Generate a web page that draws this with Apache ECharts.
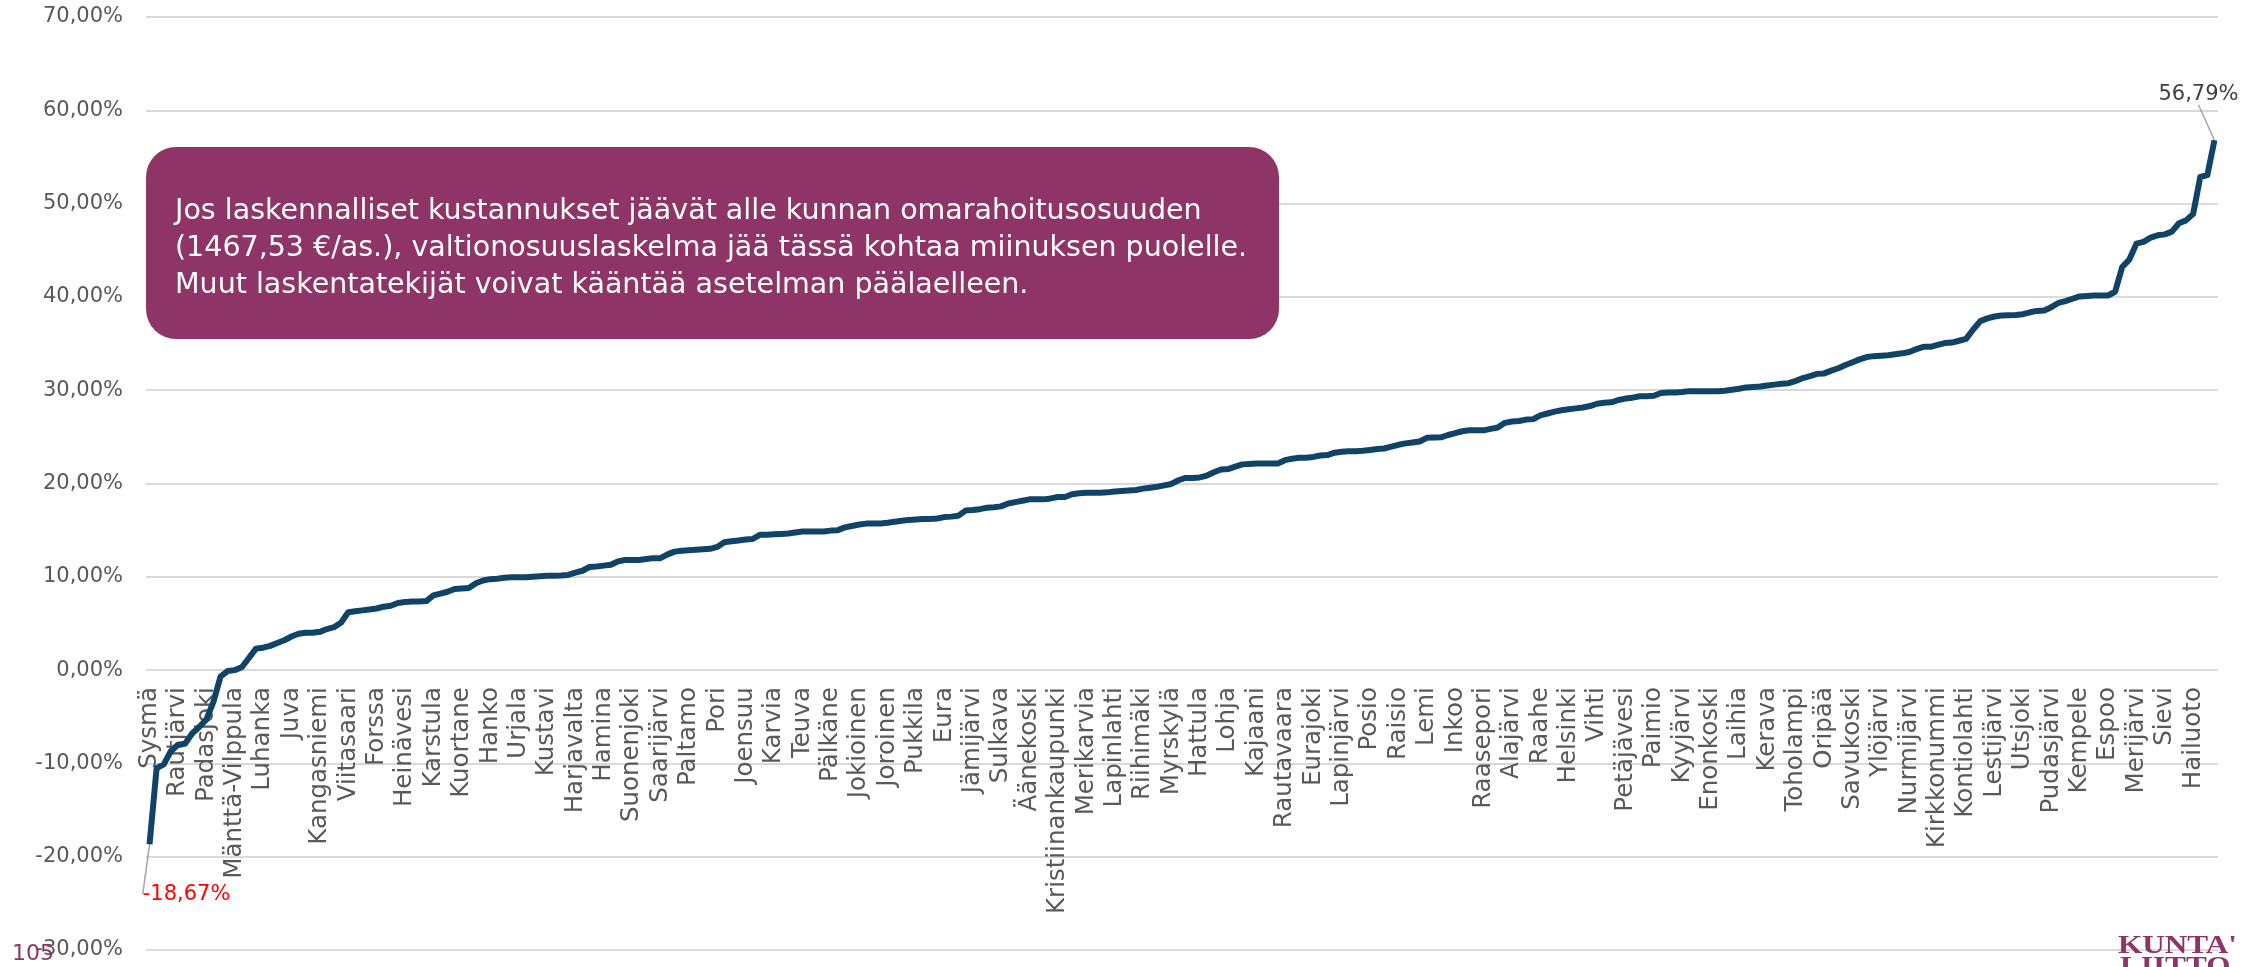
<!DOCTYPE html>
<html>
<head>
<meta charset="utf-8">
<script src="https://cdn.jsdelivr.net/npm/echarts@6/dist/echarts.min.js"></script>
<style>
html,body{margin:0;padding:0;background:#fff;}
#chart{width:2262px;height:967px;}
</style>
</head>
<body>
<div id="chart"></div>
<script>
// Labelled municipalities (every 4th category is labelled on the axis)
const labelNames = ["Sysmä","Rautjärvi","Padasjoki","Mänttä-Vilppula","Luhanka","Juva","Kangasniemi","Viitasaari","Forssa","Heinävesi","Karstula","Kuortane","Hanko","Urjala","Kustavi","Harjavalta","Hamina","Suonenjoki","Saarijärvi","Paltamo","Pori","Joensuu","Karvia","Teuva","Pälkäne","Jokioinen","Joroinen","Pukkila","Eura","Jämijärvi","Sulkava","Äänekoski","Kristiinankaupunki","Merikarvia","Lapinlahti","Riihimäki","Myrskylä","Hattula","Lohja","Kajaani","Rautavaara","Eurajoki","Lapinjärvi","Posio","Raisio","Lemi","Inkoo","Raasepori","Alajärvi","Raahe","Helsinki","Vihti","Petäjävesi","Paimio","Kyyjärvi","Enonkoski","Laihia","Kerava","Toholampi","Oripää","Savukoski","Ylöjärvi","Nurmijärvi","Kirkkonummi","Kontiolahti","Lestijärvi","Utsjoki","Pudasjärvi","Kempele","Espoo","Merijärvi","Sievi","Hailuoto"];
const labelStep = 4;

// Series values (%), in category order
const values1 = [-18.67,-10.5,-10.1,-8.7,-8.0,-7.9,-6.8,-6.1,-5.3,-3.4,-0.7,-0.1,0.0,0.3,1.3,2.3,2.4,2.6,2.9,3.2,3.6,3.9,4.0,4.0,4.1,4.4,4.6,5.1,6.2,6.3,6.4,6.5,6.6,6.8,6.9,7.2,7.3,7.35,7.35,7.4,8.0,8.2,8.4,8.7,8.75,8.8,9.3,9.6,9.75,9.8];
const values2 = [9.9,9.95,9.95,9.95,10.0,10.05,10.1,10.12,10.15,10.2,10.45,10.65,11.05,11.1,11.2,11.3,11.65,11.8,11.8,11.8,11.9,12.0,12.0,12.4,12.7,12.8,12.85,12.9,12.95,13.0,13.2,13.7,13.8,13.9,14.0,14.05,14.5,14.5,14.55,14.6,14.65,14.75,14.85,14.85,14.85,14.85,14.95,15.0,15.3,15.45];
const values3 = [15.6,15.7,15.7,15.72,15.8,15.9,16.0,16.1,16.15,16.2,16.2,16.25,16.4,16.45,16.55,17.1,17.15,17.25,17.4,17.45,17.55,17.85,18.0,18.15,18.3,18.3,18.3,18.4,18.55,18.55,18.85,18.95,19.0,19.0,19.0,19.05,19.15,19.2,19.25,19.3,19.45,19.55,19.65,19.8,19.95,20.35,20.6,20.6,20.65,20.85];
const values4 = [21.2,21.5,21.55,21.8,22.05,22.1,22.15,22.15,22.15,22.15,22.5,22.65,22.75,22.75,22.85,23.0,23.05,23.3,23.4,23.45,23.45,23.5,23.6,23.7,23.75,23.95,24.15,24.3,24.4,24.5,24.9,24.93,24.95,25.2,25.4,25.6,25.7,25.7,25.7,25.85,26.0,26.5,26.65,26.7,26.85,26.9,27.3,27.5,27.7,27.85];
const values5 = [27.95,28.05,28.15,28.3,28.55,28.65,28.7,28.95,29.1,29.2,29.35,29.35,29.4,29.7,29.75,29.75,29.8,29.9,29.9,29.9,29.9,29.9,29.95,30.05,30.15,30.3,30.35,30.4,30.5,30.6,30.7,30.75,31.0,31.3,31.5,31.75,31.8,32.1,32.35,32.7,33.0,33.3,33.55,33.65,33.7,33.75,33.85,33.95,34.1,34.4];
const values6 = [34.65,34.65,34.85,35.05,35.1,35.3,35.5,36.5,37.4,37.7,37.9,38.0,38.04,38.05,38.15,38.35,38.5,38.55,38.9,39.35,39.55,39.8,40.05,40.1,40.14,40.14,40.15,40.55,43.2,44.0,45.7,45.9,46.35,46.6,46.7,47.0,47.9,48.2,48.9,52.85,53.05,56.79];

const yTicks = {min: -30, max: 70, interval: 10};
const noteLines = [
  "Jos laskennalliset kustannukset jäävät alle kunnan omarahoitusosuuden",
  "(1467,53 €/as.), valtionosuuslaskelma jää tässä kohtaa miinuksen puolelle.",
  "Muut laskentatekijät voivat kääntää asetelman päälaelleen."
];
const pageNumber = "105";
const logoLines = ["KUNTA'", "LIITTO"];

const values = [].concat(values1, values2, values3, values4, values5, values6);
const categories = values.map((v, i) => (i % labelStep === 0 ? (labelNames[i / labelStep] || '') : ''));

const fmtPct = v => v.toFixed(2).replace('.', ',') + '%';
const lastIdx = values.length - 1;
const purple = '#8F3467';

// Grid geometry; the category axis sits on the zero line of the value axis
const CH = 967;
const gridTop = 17, gridBottom = 17;
const gridHeight = CH - gridTop - gridBottom;
const zeroOffset = -gridHeight * (0 - yTicks.min) / (yTicks.max - yTicks.min);

const seriesData = values.map((v, i) => {
  if (i === 0) {
    return {value: v, symbol: 'circle', symbolSize: 1,
      label: {show: true, position: 'bottom', color: '#FF0000', formatter: p => fmtPct(p.value)},
      labelLine: {show: true}};
  }
  if (i === lastIdx) {
    return {value: v, symbol: 'circle', symbolSize: 1,
      label: {show: true, position: 'top', color: '#404040', formatter: p => fmtPct(p.value)},
      labelLine: {show: true}};
  }
  return v;
});

const chart = echarts.init(document.getElementById('chart'), null, {renderer: 'canvas'});
chart.setOption({
  animation: false,
  backgroundColor: '#ffffff',
  grid: {left: 146, right: 44, top: gridTop, bottom: gridBottom, containLabel: false, outerBoundsMode: 'none'},
  xAxis: {
    type: 'category',
    data: categories,
    boundaryGap: true,
    position: 'bottom',
    offset: zeroOffset,
    axisLine: {show: false, onZero: false},
    axisTick: {show: false},
    splitLine: {show: false},
    axisLabel: {
      interval: labelStep - 1,
      rotate: 90,
      margin: 17,
      color: '#595959',
      fontFamily: 'DejaVu Sans',
      fontSize: 24.5
    }
  },
  yAxis: {
    type: 'value',
    min: yTicks.min, max: yTicks.max, interval: yTicks.interval,
    axisLine: {show: false},
    axisTick: {show: false},
    splitLine: {lineStyle: {color: '#D9D9D9', width: 2}},
    axisLabel: {
      margin: 23,
      color: '#595959',
      fontFamily: 'DejaVu Sans',
      fontSize: 21,
      formatter: v => fmtPct(v)
    }
  },
  series: [{
    type: 'line',
    data: seriesData,
    symbol: 'none',
    showSymbol: true,
    showAllSymbol: true,
    smooth: false,
    lineStyle: {color: '#0F4466', width: 6, join: 'round'},
    itemStyle: {color: '#0F4466'},
    label: {fontFamily: 'DejaVu Sans', fontSize: 21},
    labelLine: {lineStyle: {color: '#A6A6A6', width: 1.5}},
    labelLayout: function (params) {
      if (params.dataIndex === 0) return {dx: 37, dy: 34};
      if (params.dataIndex === lastIdx) return {dx: -16, dy: -30};
      return {};
    },
    z: 5
  }],
  graphic: [
    {
      type: 'rect', left: 146, top: 147, z: 10,
      shape: {width: 1133, height: 192, r: 30},
      style: {fill: purple}
    },
    {
      type: 'text', left: 175, top: 193, z: 11,
      style: {text: noteLines.join('\n'), fill: '#ffffff', font: '28.5px "DejaVu Sans"', lineHeight: 37}
    },
    {
      type: 'text', left: 12, top: 943, z: 11,
      style: {text: pageNumber, fill: purple, font: '22px "DejaVu Sans"'}
    },
    {
      type: 'text', left: 2118, top: 933, z: 11, scaleX: 1.2,
      style: {text: logoLines[0], fill: purple, font: 'bold 26px "Liberation Serif"'}
    },
    {
      type: 'text', left: 2120, top: 954, z: 11, scaleX: 1.2,
      style: {text: logoLines[1], fill: purple, font: 'bold 26px "Liberation Serif"'}
    }
  ]
});
</script>
</body>
</html>
